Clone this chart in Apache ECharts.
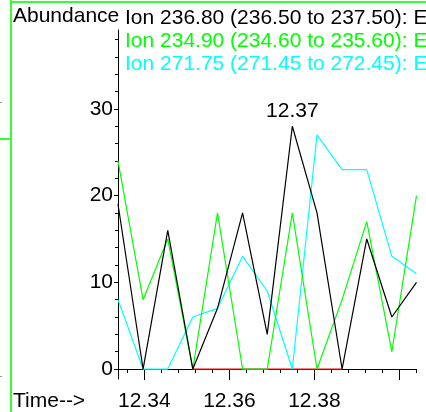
<!DOCTYPE html>
<html>
<head>
<meta charset="utf-8">
<script src="https://cdn.jsdelivr.net/npm/echarts@6/dist/echarts.min.js"></script>
<style>
html,body{margin:0;padding:0;background:#fff;}
#chart{width:426px;height:412px;}
</style>
</head>
<body>
<div id="chart"></div>
<script>
// Retention times (min)
var times = [12.3338, 12.3397, 12.3455, 12.3514, 12.3572, 12.3631, 12.3689, 12.3748, 12.3806, 12.3865, 12.3923, 12.3982, 12.4040];
// Abundances
var ion23680 = [19, 0, 16, 0, 7, 18, 4, 28, 18, 0, 15, 6, 10];
var ion23490 = [24, 8, 15, 0, 18, 0, 0, 18, 0, 8, 17, 2, 20];
var ion27175 = [8, 0, 0, 6, 7, 13, 9, 0, 27, 23, 23, 13, 11];
var baseline = [null, null, null, 0, 0, 0, 0, 0, 0, 0, null, null, null];
// Legend / titles
var legendTexts = ['Ion 236.80 (236.50 to 237.50): E', 'Ion 234.90 (234.60 to 235.60): E', 'Ion 271.75 (271.45 to 272.45): E'];
// Ticks
var xMajorTicks = [12.34, 12.36, 12.38, 12.40];
var xLabels = [12.34, 12.36, 12.38];
var xMinorTicks = [12.336, 12.340, 12.344, 12.348, 12.352, 12.356, 12.360, 12.364, 12.368, 12.372, 12.376, 12.380, 12.384, 12.388, 12.392, 12.396, 12.400, 12.404];
var yMajorTicks = [0, 10, 20, 30];
var yMinorTicks = [0, 2, 4, 6, 8, 10, 12, 14, 16, 18, 20, 22, 24, 26, 28, 30, 32, 34, 36, 38];

function pairs(vals) {
  return times.map(function (t, i) { return [t, vals[i]]; });
}
var peakIdx = 0;
ion23680.forEach(function (v, i) { if (v > ion23680[peakIdx]) peakIdx = i; });

var FONT = 'Liberation Sans, Arial, sans-serif';
var FS = 21;
var XMIN = 12.3338, XMAX = 12.404, YMIN = -1.15, YMAX = 39.1;

var chart = echarts.init(document.getElementById('chart'), null, {renderer: 'canvas'});
var option = {
  animation: false,
  backgroundColor: '#fff',
  grid: {left: 118, right: 9.5, top: 30, bottom: 33, containLabel: false},
  xAxis: [{
    type: 'value', min: XMIN, max: XMAX, position: 'bottom',
    axisLine: {show: true, lineStyle: {color: '#000', width: 1}},
    axisTick: {show: true, customValues: xMajorTicks, length: 11, lineStyle: {color: '#000', width: 1}},
    axisLabel: {show: true, customValues: xLabels, margin: 12, fontSize: FS, fontFamily: FONT, color: '#000',
      formatter: function (v) { return v.toFixed(2); }},
    splitLine: {show: false}
  }, {
    type: 'value', min: XMIN, max: XMAX, position: 'bottom',
    axisLine: {show: false},
    axisTick: {show: true, customValues: xMinorTicks, length: 4, lineStyle: {color: '#000', width: 1}},
    axisLabel: {show: false},
    splitLine: {show: false}
  }],
  yAxis: [{
    type: 'value', min: YMIN, max: YMAX, position: 'left',
    axisLine: {show: true, lineStyle: {color: '#000', width: 1}},
    axisTick: {show: true, customValues: yMajorTicks, length: 4, lineStyle: {color: '#000', width: 1}},
    axisLabel: {show: true, customValues: yMajorTicks, margin: 5, fontSize: FS, fontFamily: FONT, color: '#000'},
    splitLine: {show: false}
  }, {
    type: 'value', min: YMIN, max: YMAX, position: 'left',
    axisLine: {show: false},
    axisTick: {show: true, customValues: yMinorTicks, length: 3, lineStyle: {color: '#000', width: 1}},
    axisLabel: {show: false},
    splitLine: {show: false}
  }],
  series: [
    {type: 'line', name: 'baseline', data: pairs(baseline), showSymbol: false, symbol: 'none',
      lineStyle: {color: '#ff0000', width: 1.2}, z: 1},
    {type: 'line', name: legendTexts[2], data: pairs(ion27175), showSymbol: false, symbol: 'none',
      lineStyle: {color: '#00ffff', width: 1.2}, z: 2},
    {type: 'line', name: legendTexts[1], data: pairs(ion23490), showSymbol: false, symbol: 'none',
      lineStyle: {color: '#00ff00', width: 1.2}, z: 3},
    {type: 'line', name: legendTexts[0], data: pairs(ion23680), showSymbol: false, symbol: 'none',
      lineStyle: {color: '#000000', width: 1.2}, z: 4},
    {type: 'scatter', name: 'peak', data: [[times[peakIdx], ion23680[peakIdx]]], symbolSize: 1,
      itemStyle: {color: 'rgba(0,0,0,0)', opacity: 1}, z: 5,
      label: {show: true, position: 'top', distance: 4, fontSize: FS, fontFamily: FONT, color: '#000',
        formatter: function (p) { return p.value[0].toFixed(2); }}}
  ],
  graphic: [
    {type: 'rect', shape: {x: 10, y: 0, width: 2, height: 412}, style: {fill: '#33ff33'}, z: 10},
    {type: 'rect', shape: {x: 10, y: 1, width: 416, height: 2}, style: {fill: '#33ff33'}, z: 10},
    {type: 'rect', shape: {x: 0, y: 138, width: 11, height: 2}, style: {fill: '#33ff33'}, z: 10},
    {type: 'rect', shape: {x: 0, y: 102, width: 2, height: 1}, style: {fill: '#999'}, z: 10},
    {type: 'rect', shape: {x: 0, y: 376, width: 2, height: 1}, style: {fill: '#999'}, z: 10},
    {type: 'text', style: {x: 13, y: 16, text: 'Abundance', font: FS + 'px ' + FONT, fill: '#000', textVerticalAlign: 'middle'}, z: 10},
    {type: 'text', style: {x: 125, y: 18, text: legendTexts[0], font: FS + 'px ' + FONT, fill: '#000', textVerticalAlign: 'middle'}, z: 10},
    {type: 'text', style: {x: 125, y: 41, text: legendTexts[1], font: FS + 'px ' + FONT, fill: '#00ff00', textVerticalAlign: 'middle'}, z: 10},
    {type: 'text', style: {x: 125, y: 64.5, text: legendTexts[2], font: FS + 'px ' + FONT, fill: '#00ffff', textVerticalAlign: 'middle'}, z: 10},
    {type: 'text', style: {x: 13, y: 401, text: 'Time-->', font: FS + 'px ' + FONT, fill: '#000', textVerticalAlign: 'middle'}, z: 10}
  ]
};
chart.setOption(option);
</script>
</body>
</html>
